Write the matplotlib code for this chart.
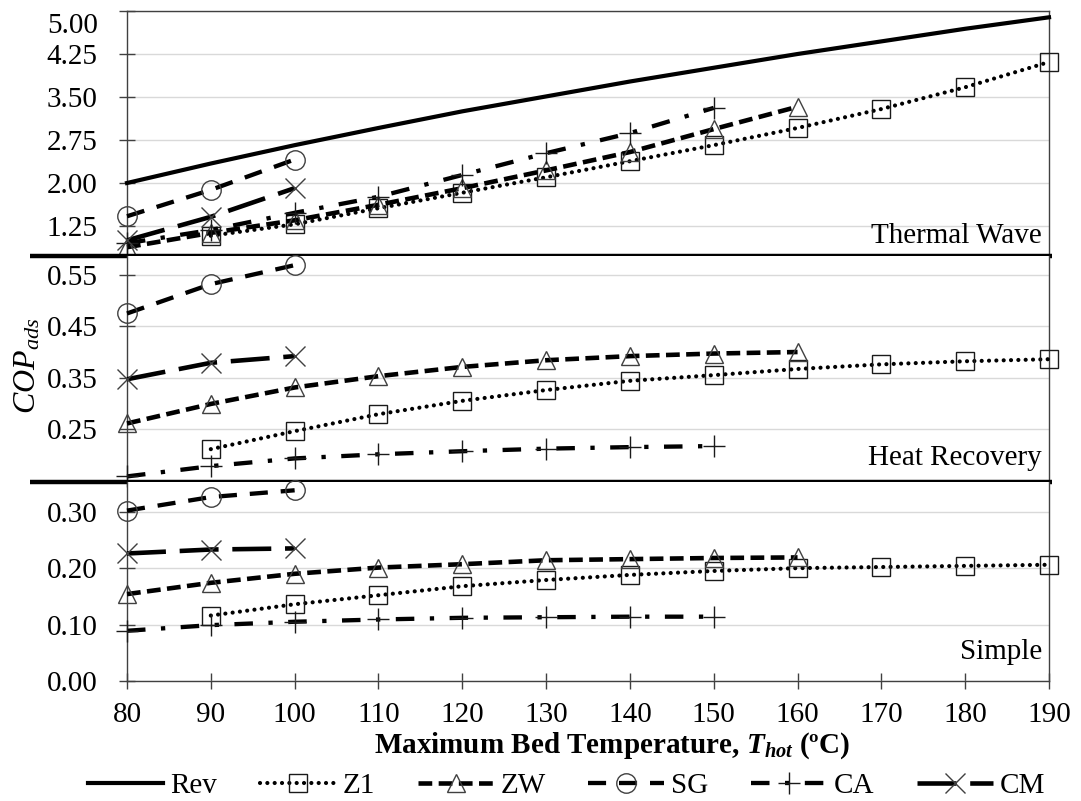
import matplotlib
matplotlib.use('Agg')
import matplotlib.pyplot as plt
from matplotlib.lines import Line2D

plt.rcParams['font.family'] = ['Liberation Serif', 'DejaVu Serif']
plt.rcParams['mathtext.fontset'] = 'custom'
plt.rcParams['mathtext.rm'] = 'Liberation Serif'
plt.rcParams['mathtext.it'] = 'Liberation Serif:italic'
plt.rcParams['mathtext.bf'] = 'Liberation Serif:bold'
try:
    plt.rcParams['mathtext.bfit'] = 'Liberation Serif:italic:bold'
except KeyError:
    pass

# ---------------- data ----------------
x_ticks = [80, 90, 100, 110, 120, 130, 140, 150, 160, 170, 180, 190]

rev_temps = [80, 90, 100, 110, 120, 130, 140, 150, 160, 170, 180, 190]
rev_tw = [2.00, 2.34, 2.66, 2.96, 3.25, 3.51, 3.77, 4.01, 4.25, 4.47, 4.69, 4.89]

z1_temps = [90, 100, 110, 120, 130, 140, 150, 160, 170, 180, 190]
z1_tw = [1.08, 1.28, 1.56, 1.83, 2.10, 2.38, 2.66, 2.96, 3.29, 3.67, 4.11]
z1_hr = [0.211, 0.246, 0.279, 0.305, 0.326, 0.344, 0.355, 0.367, 0.376, 0.382, 0.386]
z1_simple = [0.116, 0.136, 0.152, 0.168, 0.179, 0.188, 0.195, 0.200, 0.202, 0.204, 0.206]

zw_temps = [80, 90, 100, 110, 120, 130, 140, 150, 160]
zw_tw = [0.88, 1.13, 1.35, 1.62, 1.91, 2.22, 2.54, 2.94, 3.33]
zw_hr = [0.261, 0.299, 0.331, 0.353, 0.371, 0.384, 0.392, 0.397, 0.400]
zw_simple = [0.154, 0.174, 0.190, 0.201, 0.207, 0.214, 0.216, 0.218, 0.219]

sg_temps = [80, 90, 100]
sg_tw = [1.42, 1.88, 2.41]
sg_hr = [0.475, 0.532, 0.569]
sg_simple = [0.302, 0.326, 0.338]

ca_temps = [80, 90, 100, 110, 120, 130, 140, 150]
ca_tw = [0.95, 1.18, 1.48, 1.76, 2.14, 2.52, 2.87, 3.31]
ca_hr = [0.158, 0.178, 0.193, 0.201, 0.207, 0.212, 0.215, 0.217]
ca_simple = [0.089, 0.099, 0.105, 0.109, 0.112, 0.113, 0.114, 0.114]

cm_temps = [80, 90, 100]
cm_tw = [1.00, 1.41, 1.91]
cm_hr = [0.347, 0.379, 0.392]
cm_simple = [0.226, 0.233, 0.235]

series_names = ['Rev', 'Z1', 'ZW', 'SG', 'CA', 'CM']
panel_names = ['Thermal Wave', 'Heat Recovery', 'Simple']
tw_ticks = [1.25, 2.00, 2.75, 3.50, 4.25, 5.00]
hr_ticks = [0.25, 0.35, 0.45, 0.55]
simple_ticks = [0.00, 0.10, 0.20, 0.30]

# ---------------- styles ----------------
FS = 21
styles = {
    'Rev': dict(color='black', lw=3.0, linestyle='-', marker=None),
    'Z1': dict(color='black', lw=3.0, dashes=(0.01, 1.75), dash_capstyle='round',
               marker='s', ms=12.5, mfc='none', mec='#1a1a1a', mew=1.0),
    'ZW': dict(color='black', lw=3.3, dashes=(3.0, 1.4),
               marker='^', ms=13.5, mfc='none', mec='#404040', mew=1.0),
    'SG': dict(color='black', lw=3.1, dashes=(4.2, 3.0),
               marker='o', ms=14, mfc='none', mec='#404040', mew=1.0),
    'CA': dict(color='black', lw=3.1, dashes=(4.3, 3.6, 1.0, 3.6),
               marker='+', ms=16, mec='#1a1a1a', mew=1.0),
    'CM': dict(color='black', lw=3.3, dashes=(8.5, 3.0),
               marker='x', ms=14, mec='#404040', mew=1.0),
}

panel_data = [
    {'Rev': (rev_temps, rev_tw), 'Z1': (z1_temps, z1_tw), 'ZW': (zw_temps, zw_tw),
     'SG': (sg_temps, sg_tw), 'CA': (ca_temps, ca_tw), 'CM': (cm_temps, cm_tw)},
    {'Z1': (z1_temps, z1_hr), 'ZW': (zw_temps, zw_hr),
     'SG': (sg_temps, sg_hr), 'CA': (ca_temps, ca_hr), 'CM': (cm_temps, cm_hr)},
    {'Z1': (z1_temps, z1_simple), 'ZW': (zw_temps, zw_simple),
     'SG': (sg_temps, sg_simple), 'CA': (ca_temps, ca_simple), 'CM': (cm_temps, cm_simple)},
]
panel_ticks = [tw_ticks, hr_ticks, simple_ticks]
panel_ylims = [(0.727, 5.0), (0.1477, 0.5868), (0.0, 0.3532)]
label_offsets = [9.5, 12.0, 16.0]

# ---------------- figure ----------------
fig = plt.figure(figsize=(10.81, 8.01), dpi=100)
gs = fig.add_gridspec(3, 1, height_ratios=[245, 225.7, 199.3], hspace=0,
                      left=127/1081, right=1049/1081, top=1-11/801, bottom=1-681/801)
axes = [fig.add_subplot(gs[i]) for i in range(3)]

spine_col = '#404040'
for i, ax in enumerate(axes):
    for name in series_names:
        if name in panel_data[i]:
            xs, ys = panel_data[i][name]
            ax.plot(xs, ys, label=name, clip_on=False, zorder=3, **styles[name])
    ax.set_xlim(80, 190)
    ax.set_ylim(*panel_ylims[i])
    ax.set_yticks(panel_ticks[i])
    labels = ['%.2f' % v for v in panel_ticks[i]]
    if i == 0:
        labels[-1] = ''
    ax.set_yticklabels(labels)
    ax.set_xticks(x_ticks)
    ax.yaxis.grid(True, color='#d9d9d9', lw=1)
    ax.set_axisbelow(True)
    ax.tick_params(axis='y', direction='inout', length=12, width=1, color=spine_col,
                   pad=15, labelsize=FS)
    for s in ['left', 'right', 'top', 'bottom']:
        ax.spines[s].set_color(spine_col)
        ax.spines[s].set_linewidth(1)
    if i != 0:
        ax.spines['top'].set_visible(False)
    if i != 2:
        ax.spines['bottom'].set_visible(False)
        ax.tick_params(axis='x', bottom=False, labelbottom=False)
        ax.plot([-0.105, 1.003], [0, 0], transform=ax.transAxes, color='black',
                lw=3.2, clip_on=False, zorder=5, solid_capstyle='butt')
    else:
        ax.tick_params(axis='x', direction='inout', length=12, width=1, color=spine_col,
                       pad=9, labelsize=FS)
    ax.annotate(panel_names[i], xy=(1, 0), xycoords='axes fraction',
                xytext=(-5, label_offsets[i]), textcoords='offset points',
                ha='right', va='baseline', fontsize=FS)

axes[0].annotate('5.00', xy=(0, 1), xycoords='axes fraction', xytext=(-21, -11),
                 textcoords='offset points', ha='right', va='center', fontsize=FS)

fig.text(28/1081, 1-366/801, r'$COP_{ads}$', rotation=90, ha='center', va='center',
         fontsize=FS + 2)
fig.text(612/1081, 1-746/801, r'Maximum Bed Temperature, $\mathbfit{T}_{\mathbfit{hot}}$ (ºC)',
         ha='center', va='center', fontsize=FS, fontweight='bold')

handles = []
for name in series_names:
    handles.append(Line2D([], [], **styles[name]))
fig.legend(handles, series_names, loc='center', bbox_to_anchor=(0.524, 1-786/801),
           ncol=6, frameon=False, handlelength=2.6, handletextpad=0.25,
           columnspacing=1.45, fontsize=FS, numpoints=1,
           borderpad=0, borderaxespad=0)

fig.savefig('out.png', dpi=100)
